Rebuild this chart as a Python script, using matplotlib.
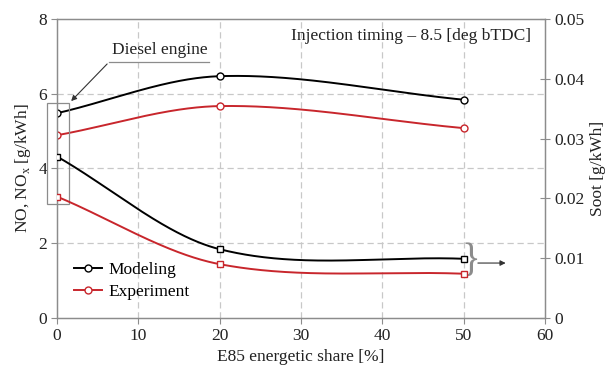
import numpy as np
import matplotlib
matplotlib.use("Agg")
import matplotlib.pyplot as plt
from matplotlib.patches import Rectangle

plt.rcParams['font.family'] = ['Liberation Serif', 'DejaVu Serif']

# data
share = [0, 20, 50]
nox_model = [5.48, 6.47, 5.84]
nox_exp = [4.89, 5.67, 5.08]
soot_model = [0.0270, 0.0115, 0.0099]
soot_exp = [0.0203, 0.0090, 0.0074]

RED = '#c8262c'
GRAY = '#8c8c8c'
TXT = '#222222'
FS = 12.5


def smooth(x, y, n=200):
    # piecewise cubic hermite, roughly like a spreadsheet "smooth line"
    x = np.asarray(x, float)
    y = np.asarray(y, float)
    m = np.zeros_like(y)
    m[0] = (y[1] - y[0]) / (x[1] - x[0])
    m[-1] = (y[-1] - y[-2]) / (x[-1] - x[-2])
    for i in range(1, len(x) - 1):
        m[i] = (y[i + 1] - y[i - 1]) / (x[i + 1] - x[i - 1])
    xs, ys = [], []
    for i in range(len(x) - 1):
        h = x[i + 1] - x[i]
        t = np.linspace(0, 1, n)
        h00 = 2 * t**3 - 3 * t**2 + 1
        h10 = t**3 - 2 * t**2 + t
        h01 = -2 * t**3 + 3 * t**2
        h11 = t**3 - t**2
        xs.append(x[i] + t * h)
        ys.append(h00 * y[i] + h10 * h * m[i] + h01 * y[i + 1] + h11 * h * m[i + 1])
    return np.concatenate(xs), np.concatenate(ys)


fig = plt.figure(figsize=(6.09, 3.71), dpi=100)
ax = fig.add_axes([0.0936, 0.1429, 0.8014, 0.8059])
ax2 = ax.twinx()

for yv, col in [(nox_model, 'black'), (nox_exp, RED)]:
    sx, sy = smooth(share, yv)
    ax.plot(sx, sy, color=col, lw=1.4, zorder=3)
    ax.plot(share, yv, ls='none', marker='o', ms=5, mfc='white', mec=col, mew=1, zorder=4)

for yv, col in [(soot_model, 'black'), (soot_exp, RED)]:
    sx, sy = smooth(share, yv)
    ax2.plot(sx, sy, color=col, lw=1.4, zorder=3)
    ax2.plot(share, yv, ls='none', marker='s', ms=5, mfc='white', mec=col, mew=1, zorder=4)

# legend proxies
ax.plot([], [], color='black', lw=1.4, marker='o', ms=5, mfc='white', mec='black', label='Modeling')
ax.plot([], [], color=RED, lw=1.4, marker='o', ms=5, mfc='white', mec=RED, label='Experiment')
ax.legend(loc='lower left', bbox_to_anchor=(0.01, 0.02), frameon=False, fontsize=FS,
          handlelength=1.6, handletextpad=0.4, labelspacing=0.3, borderaxespad=0.3)

ax.set_xlim(0, 60)
ax.set_ylim(0, 8)
ax2.set_ylim(0, 0.05)
ax.set_xticks([0, 10, 20, 30, 40, 50, 60])
ax.set_yticks([0, 2, 4, 6, 8])
ax2.set_yticks([0, 0.01, 0.02, 0.03, 0.04, 0.05])
ax2.set_yticklabels(['0', '0.01', '0.02', '0.03', '0.04', '0.05'])

for g in [10, 20, 30, 40, 50]:
    ax.axvline(g, color='#c8c8c8', lw=0.9, ls=(0, (5, 3)), zorder=1)
for g in [2, 4, 6]:
    ax.axhline(g, color='#c8c8c8', lw=0.9, ls=(0, (5, 3)), zorder=1)

for a in (ax, ax2):
    for s in a.spines.values():
        s.set_color(GRAY)
        s.set_linewidth(0.9)
    a.tick_params(colors=GRAY, labelcolor=TXT, labelsize=FS, length=4, width=0.8, pad=3)
ax2.tick_params(direction='inout', length=7)

ax.set_xlabel('E85 energetic share [%]', fontsize=FS, color=TXT, labelpad=4)
ax.set_ylabel('NO, NO$_\\mathregular{x}$ [g/kWh]', fontsize=FS, color=TXT, labelpad=4)
ax2.set_ylabel('Soot [g/kWh]', fontsize=FS, color=TXT, labelpad=4)

ax.text(58.3, 7.55, 'Injection timing \u2013 8.5 [deg bTDC]', ha='right', va='center',
        fontsize=FS, color=TXT)

# diesel engine annotation
ax.add_patch(Rectangle((-1.2, 3.05), 2.7, 2.7, fill=False, ec=GRAY, lw=0.9,
                       clip_on=False, zorder=5))
ax.plot([6.4, 18.7], [6.85, 6.85], color=GRAY, lw=0.9)
ax.annotate('', xy=(1.5, 5.75), xytext=(6.4, 6.85),
            arrowprops=dict(arrowstyle='-|>', color='#333333', lw=0.8, mutation_scale=8))
ax.text(12.6, 7.17, 'Diesel engine', ha='center', va='center', fontsize=FS, color=TXT)

# brace pointing to soot axis
ax.text(49.7, 1.5, '}', ha='left', va='center', fontsize=28, color=GRAY,
        fontweight='light')
ax.annotate('', xy=(55.5, 1.47), xytext=(51.4, 1.47),
            arrowprops=dict(arrowstyle='-|>', color='#333333', lw=0.8, mutation_scale=8))

fig.savefig('out.png', dpi=100)
